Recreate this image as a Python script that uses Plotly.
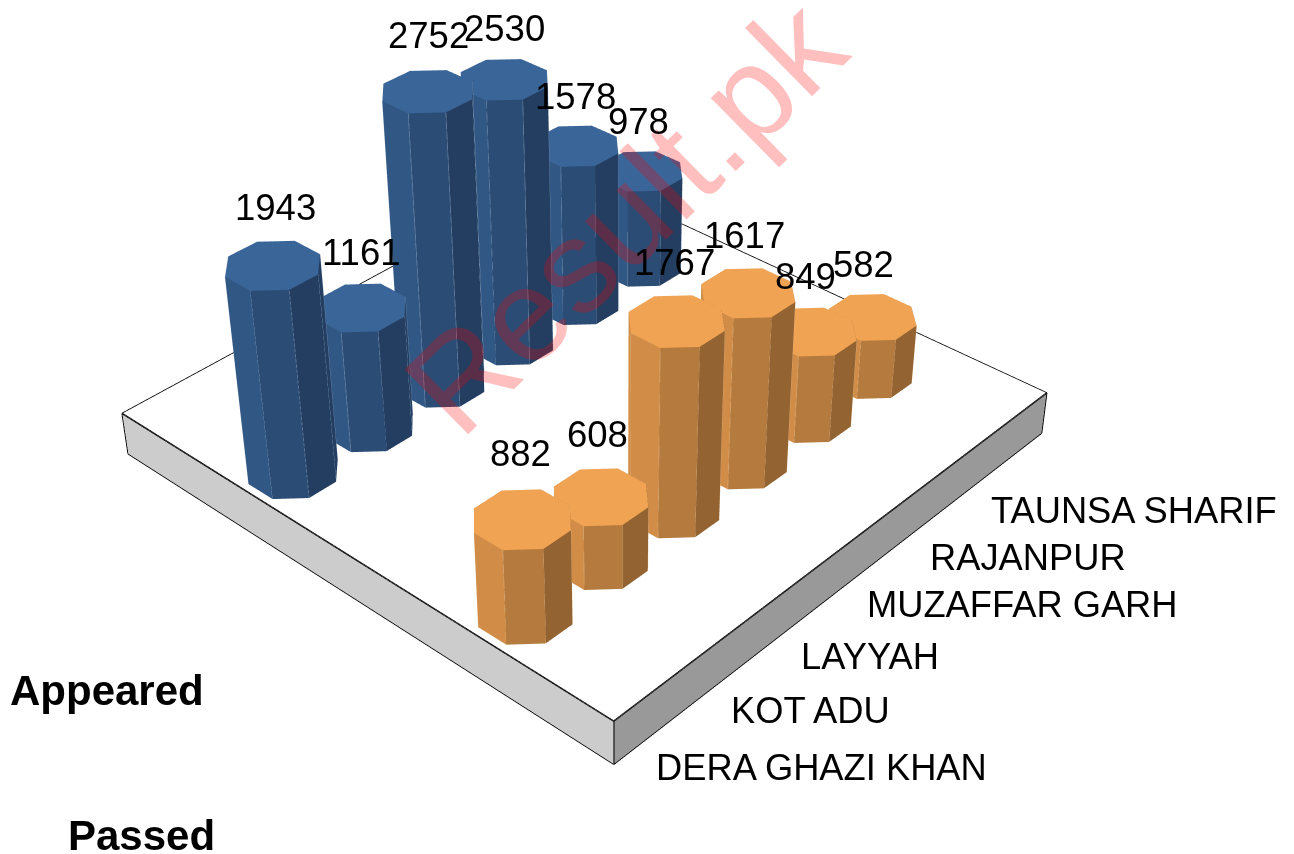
import math
import plotly.graph_objects as go

categories = ["DERA GHAZI KHAN", "KOT ADU", "LAYYAH", "MUZAFFAR GARH", "RAJANPUR", "TAUNSA SHARIF"]
series_names = ["Appeared", "Passed"]
appeared = [1943, 1161, 2752, 2530, 1578, 978]
passed = [882, 608, 1767, 1617, 849, 582]

PAL = {
    "Appeared": dict(top="#3a6599", center="#2b4c75", right="#233e60", left="#315784", edge="#8fa5c0"),
    "Passed": dict(top="#f0a352", center="#b57a3d", right="#936331", left="#d18d47", edge="#e3bd93"),
}
# floor extents in axis units (series index on x, category index on y)
X0, X1, Y0, Y1 = -0.62, 1.44, -0.40, 5.93
FLOOR = -415
RX, RY = 0.13, 0.406
SERIES_POS = [0.0, 0.965]
CAT_START, CAT_STEP = 0.09, 0.982

# view model: plotly's perspective lens is fixed, so a longer lens is applied to the
# vertices and the result is shown through an orthographic camera
PX_PER_ASPECT = 428.4
LX, LY = 663.0, 649.0     # floor size, px
KZ = 0.121                # px per value
A0 = -33.0                # floor centre offset from the view axis, px
ALPHA = math.radians(42.2)
ELEV = math.radians(35.5)
F = 2400.0
R = (math.cos(ALPHA), math.sin(ALPHA), 0.0)
H = (-math.sin(ALPHA), math.cos(ALPHA), 0.0)
S, C = math.sin(ELEV), math.cos(ELEV)
UP = (H[0] * S, H[1] * S, C)
FW = (H[0] * C, H[1] * C, -S)
XC, YC = (X0 + X1) / 2, (Y0 + Y1) / 2
WX, WY = X1 - X0, Y1 - Y0

def warp(x, y, z):
    fx, fy, fz = (x - XC) / WX * LX, (y - YC) / WY * LY, z * KZ
    fx += A0 * R[0]; fy += A0 * R[1]
    u = fx * R[0] + fy * R[1]
    v = fx * UP[0] + fy * UP[1] + fz * UP[2]
    d = fx * FW[0] + fy * FW[1] + fz * FW[2]
    s = F / (F + d)
    u, v = u * s, v * s
    px = u * R[0] + v * UP[0] + d * FW[0]
    py = u * R[1] + v * UP[1] + d * FW[1]
    pz = u * R[2] + v * UP[2] + d * FW[2]
    return XC + px / LX * WX, YC + py / LY * WY, pz / KZ

def warp_many(xs, ys, zs):
    out = [warp(a, b, c) if a is not None else (None, None, None) for a, b, c in zip(xs, ys, zs)]
    return [o[0] for o in out], [o[1] for o in out], [o[2] for o in out]

FLAT = dict(ambient=1, diffuse=0, specular=0, fresnel=0)

def prism(cx, cy, h, pal):
    xs, ys, zs = [], [], []
    ang = [math.radians(-67.5 + 45 * k) for k in range(8)]
    for z in (0, h):
        for a in ang:
            xs.append(cx + RX * math.cos(a) / math.cos(math.pi / 8))
            ys.append(cy + RY * math.sin(a) / math.cos(math.pi / 8))
            zs.append(z)
    i, j, k, col = [], [], [], []
    for n in range(8):
        m = (n + 1) % 8
        i += [n, m]; j += [m, m + 8]; k += [n + 8, n + 8]
        d = round(math.degrees(ang[n] + math.pi / 8)) % 360
        c = {315: pal["center"], 0: pal["right"], 45: pal["right"], 270: pal["left"], 225: pal["left"]}.get(d, pal["center"])
        col += [c, c]
    for n in range(1, 7):
        i.append(8); j.append(8 + n); k.append(8 + n + 1); col.append(pal["top"])
    wx, wy, wz = warp_many(xs, ys, zs)
    mesh = go.Mesh3d(x=wx, y=wy, z=wz, i=i, j=j, k=k, facecolor=col, flatshading=True,
                     lighting=FLAT, hoverinfo="skip", showscale=False)
    ex, ey, ez = [], [], []
    for n in range(8):
        ex += [xs[n], xs[n + 8], None]; ey += [ys[n], ys[n + 8], None]; ez += [0, h, None]
    ex, ey, ez = warp_many(ex, ey, ez)
    edges = go.Scatter3d(x=ex, y=ey, z=ez, mode="lines", line=dict(color=pal["edge"], width=1), hoverinfo="skip", showlegend=False)
    return [mesh, edges]

fig = go.Figure()
fx = [X0, X1, X1, X0, X0, X1, X1, X0]
fy = [Y0, Y0, Y1, Y1, Y0, Y0, Y1, Y1]
fz = [FLOOR] * 4 + [-1] * 4
wx, wy, wz = warp_many(fx, fy, fz)
fig.add_trace(go.Mesh3d(x=wx, y=wy, z=wz,
    i=[4, 4, 0, 0, 1, 1], j=[5, 6, 1, 5, 2, 6], k=[6, 7, 5, 4, 6, 5],
    facecolor=["#ffffff", "#ffffff", "#cccccc", "#cccccc", "#999999", "#999999"],
    flatshading=True, lighting=FLAT, hoverinfo="skip", showscale=False))
ox = [X0, X1, X1, X0, X0, None, X1, X1, None, X0, X0, None, X1, X1, None, X0, X1, X1]
oy = [Y0, Y0, Y1, Y1, Y0, None, Y0, Y0, None, Y0, Y0, None, Y1, Y1, None, Y0, Y0, Y1]
oz = [-1, -1, -1, -1, -1, None, -1, FLOOR, None, -1, FLOOR, None, -1, FLOOR, None, FLOOR, FLOOR, FLOOR]
ox, oy, oz = warp_many(ox, oy, oz)
fig.add_trace(go.Scatter3d(x=ox, y=oy, z=oz, mode="lines", line=dict(color="black", width=3), hoverinfo="skip", showlegend=False))

# label nudges, px, in category order
LABEL_DX = [[3, 0, 1, 0, -1, -3], [-2, -3, -2, -4, -6, -9]]
LABEL_DY = [[0, -3, -2, -7, -9, -8], [8, 4, 1, -1, -3, -5]]

scene_ann = []
for si, (name, vals) in enumerate(zip(series_names, [appeared, passed])):
    for ci, v in enumerate(vals):
        cy = CAT_START + CAT_STEP * ci
        for t in prism(SERIES_POS[si], cy, v, PAL[name]):
            fig.add_trace(t)
        ax_, ay_, az_ = warp(SERIES_POS[si], cy, v)
        scene_ann.append(dict(x=ax_, y=ay_, z=az_, text=str(v), showarrow=False,
                              xshift=LABEL_DX[si][ci], yshift=58 + LABEL_DY[si][ci],
                              font=dict(family="Liberation Sans", size=36.5, color="black")))

ann = []
cat_pos = [(654, 767), (729, 710), (799, 656), (865, 604), (928, 557), (989, 510)]
for c, (px, py) in zip(categories, cat_pos):
    ann.append(dict(text=c, x=px / 1294, y=1 - py / 854, xref="paper", yref="paper", xanchor="left", yanchor="middle",
                    showarrow=False, font=dict(family="Liberation Sans", size=36.3, color="black")))
for s, (px, py) in zip(series_names, [(8, 690), (66, 835)]):
    ann.append(dict(text="<b>%s</b>" % s, x=px / 1294, y=1 - py / 854, xref="paper", yref="paper", xanchor="left", yanchor="middle",
                    showarrow=False, font=dict(family="Liberation Sans", size=42, color="black")))
ann.append(dict(text="Result.pk", x=625 / 1294, y=1 - 217 / 854, xref="paper", yref="paper", xanchor="center", yanchor="middle",
                showarrow=False, textangle=-44.5,
                font=dict(family="Liberation Sans", size=132, color="rgba(255,0,0,0.25)")))

ax = dict(visible=False, showgrid=False, zeroline=False, showbackground=False, showspikes=False)
ZR = 4000
SPAN = 3.0
# shift the view so the lens axis lands at the picture position (620, 403)
CU, CV = 27 / PX_PER_ASPECT, -24 / PX_PER_ASPECT
CEN = [CU * R[n] + CV * UP[n] for n in range(3)]
DIST = 4.0
EYE = [CEN[n] - DIST * FW[n] for n in range(3)]
fig.update_layout(
    width=1294, height=854, paper_bgcolor="white", margin=dict(l=0, r=0, t=0, b=0), showlegend=False,
    annotations=ann,
    scene=dict(
        domain=dict(x=[0, 1], y=[0, 1]),
        xaxis=dict(ax, range=[XC - SPAN * WX / 2, XC + SPAN * WX / 2]),
        yaxis=dict(ax, range=[YC - SPAN * WY / 2, YC + SPAN * WY / 2]),
        zaxis=dict(ax, range=[-ZR, ZR]),
        aspectmode="manual",
        aspectratio=dict(x=SPAN * LX / PX_PER_ASPECT, y=SPAN * LY / PX_PER_ASPECT, z=2 * ZR * KZ / PX_PER_ASPECT),
        camera=dict(eye=dict(x=EYE[0], y=EYE[1], z=EYE[2]), center=dict(x=CEN[0], y=CEN[1], z=CEN[2]),
                    up=dict(x=0, y=0, z=1), projection=dict(type="orthographic")),
        annotations=scene_ann,
    ),
)
fig.write_html("out.html", config={"displayModeBar": False},
               post_script="document.body.style.margin='0';")
